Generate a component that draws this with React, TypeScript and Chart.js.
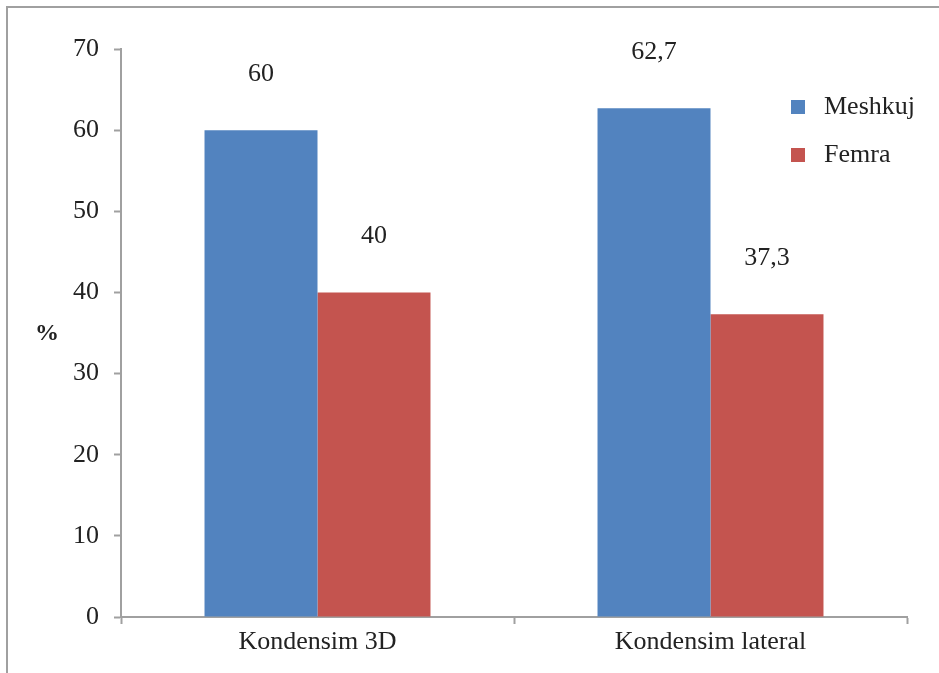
import React, { useEffect, useRef } from "react";
import { Chart, registerables } from "chart.js";

Chart.register(...registerables);

const categories = ["Kondensim 3D", "Kondensim lateral"];
const seriesNames = ["Meshkuj", "Femra"];
const maleValues = [60, 62.7];
const femaleValues = [40, 37.3];
const valueLabels = [["60", "62,7"], ["40", "37,3"]];
const yTicks = [0, 10, 20, 30, 40, 50, 60, 70];
const colors = ["#5283BF", "#C4544F"];

const FONT = "'Liberation Serif', 'Times New Roman', serif";
const TEXT = "#222222";
const AXIS = "#a0a0a0";

const decorPlugin = {
  id: "decor",
  beforeDraw(chart: any) {
    const ctx = chart.ctx;
    ctx.save();
    ctx.strokeStyle = AXIS;
    ctx.lineWidth = 2;
    ctx.beginPath();
    ctx.moveTo(7, chart.height);
    ctx.lineTo(7, 7);
    ctx.lineTo(chart.width, 7);
    ctx.stroke();
    // y axis title
    ctx.fillStyle = TEXT;
    ctx.font = `bold 24px ${FONT}`;
    ctx.textAlign = "center";
    ctx.textBaseline = "middle";
    const ys = chart.scales.y;
    ctx.fillText("%", 47, (ys.top + ys.bottom) / 2 + 1);
    ctx.restore();
  },
  afterDatasetsDraw(chart: any) {
    const ctx = chart.ctx;
    ctx.save();
    ctx.fillStyle = TEXT;
    ctx.font = `26px ${FONT}`;
    ctx.textAlign = "center";
    ctx.textBaseline = "middle";
    chart.data.datasets.forEach((ds: any, di: number) => {
      const meta = chart.getDatasetMeta(di);
      meta.data.forEach((bar: any, i: number) => {
        ctx.fillText(valueLabels[di][i], bar.x, bar.y - 56);
      });
    });
    // legend
    const lx = 791;
    const rows = [107, 155];
    seriesNames.forEach((name, i) => {
      ctx.fillStyle = colors[i];
      ctx.fillRect(lx, rows[i] - 7, 14, 14);
      ctx.fillStyle = TEXT;
      ctx.textAlign = "left";
      ctx.fillText(name, 824, rows[i]);
    });
    ctx.restore();
  },
};

export default function App() {
  const ref = useRef<HTMLCanvasElement | null>(null);
  useEffect(() => {
    if (!ref.current) return;
    const chart = new Chart(ref.current, {
      type: "bar",
      data: {
        labels: categories,
        datasets: [
          { label: seriesNames[0], data: maleValues, backgroundColor: colors[0] },
          { label: seriesNames[1], data: femaleValues, backgroundColor: colors[1] },
        ],
      },
      options: {
        responsive: false,
        animation: false,
        layout: { padding: { left: 0, top: 49, right: 32, bottom: 0 } },
        datasets: { bar: { categoryPercentage: 0.575, barPercentage: 1.0 } },
        plugins: { legend: { display: false }, tooltip: { enabled: false } },
        scales: {
          x: {
            grid: {
              offset: true,
              drawOnChartArea: false,
              drawTicks: true,
              tickLength: 7,
              color: AXIS,
              tickWidth: 2,
            },
            border: { color: AXIS, width: 2 },
            ticks: { color: TEXT, font: { family: FONT, size: 26 }, padding: 3 },
            afterFit(scale: any) {
              scale.height = 56;
            },
          },
          y: {
            min: 0,
            max: 70,
            afterBuildTicks(scale: any) {
              scale.ticks = yTicks.map((v) => ({ value: v }));
            },
            grid: {
              drawOnChartArea: false,
              drawTicks: true,
              tickLength: 7,
              color: AXIS,
              tickWidth: 2,
            },
            border: { color: AXIS, width: 2 },
            ticks: { color: TEXT, font: { family: FONT, size: 26 }, padding: 15 },
            afterFit(scale: any) {
              scale.width = 121;
            },
          },
        },
      },
      plugins: [decorPlugin],
    });
    return () => chart.destroy();
  }, []);
  return (
    <div style={{ position: "fixed", left: 0, top: 0, width: 939, height: 673, background: "#fff" }}>
      <canvas ref={ref} width={939} height={673} style={{ display: "block" }} />
    </div>
  );
}
